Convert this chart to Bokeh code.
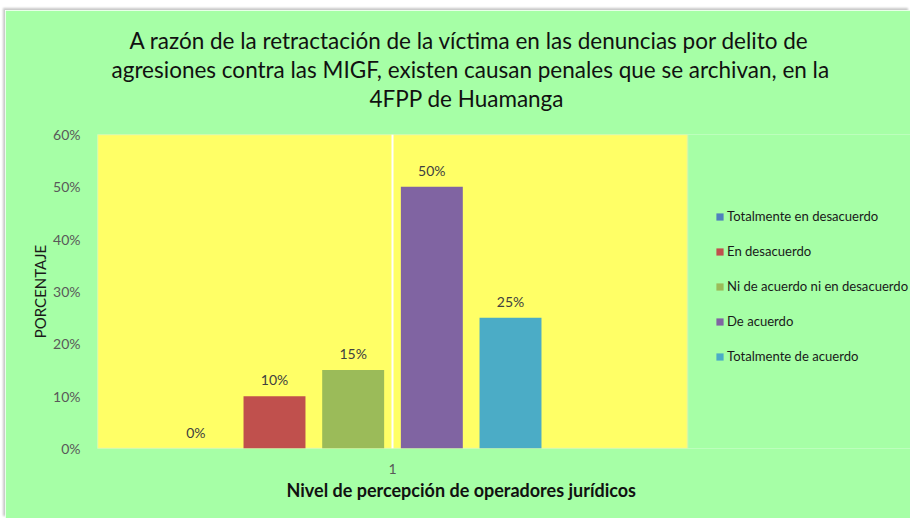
from bokeh.plotting import figure
from bokeh.models import (ColumnDataSource, Range1d, FixedTicker, NumeralTickFormatter,
                          LabelSet, Title, Legend, LegendItem, BoxAnnotation)
from bokeh.core.properties import value
from bokeh.embed import file_html
from bokeh.resources import INLINE

# ---- data ----
title_lines = [
    "A razón de la retractación de la víctima en las denuncias por delito de",
    "agresiones contra las MIGF, existen causan penales que se archivan, en la",
    "4FPP de Huamanga",
]
category = [1]
series = ["Totalmente en desacuerdo", "En desacuerdo", "Ni de acuerdo ni en desacuerdo",
          "De acuerdo", "Totalmente de acuerdo"]
values = [0.00, 0.10, 0.15, 0.50, 0.25]
bar_colors = ["#4F81BD", "#C0504D", "#9BBB59", "#8064A2", "#4BACC6"]
y_ticks = [0.0, 0.1, 0.2, 0.3, 0.4, 0.5, 0.6]
x_title = "Nivel de percepción de operadores jurídicos"
y_title = "PORCENTAJE"

FONT = "Lato"
GREEN = "#A6FFA6"
YELLOW = "#FFFF66"

# ---- layout ----
PLOT_W = 590          # width of the yellow plot area (one category unit)
FRAME_W = 813         # frame also covers the legend column up to the right edge
FRAME_H = 314
x_lo, x_hi = 0.5, 1.5
x_end = x_lo + FRAME_W / PLOT_W * (x_hi - x_lo)
title_offsets = [32, 14, 272]   # left offsets that centre each title line on the chart

# Excel-like clustered layout: 6 slots per category (last one empty)
n_slots = len(series) + 1
step = 1.0 / 7.5
bar_w = 0.105
xs = [category[0] + (i - (n_slots - 1) / 2) * step for i in range(len(series))]

src = ColumnDataSource(dict(
    x=xs, top=values, color=bar_colors, series=series,
    label=[f"{v*100:.0f}%" for v in values],
))

p = figure(frame_width=FRAME_W, frame_height=FRAME_H, margin=(10, 0, 0, 5),
           x_range=Range1d(x_lo, x_end), y_range=Range1d(y_ticks[0], y_ticks[-1]),
           output_backend="svg", toolbar_location=None,
           min_border_left=92, min_border_right=0,
           min_border_top=124, min_border_bottom=70)
p.styles = {"box-shadow": "-2px -2px 2px rgba(0, 0, 0, 0.22)"}
p.title = None
p.background_fill_color = GREEN
p.border_fill_color = GREEN
p.outline_line_color = None

# yellow plot area
p.add_layout(BoxAnnotation(left=x_lo, right=x_hi, fill_color=YELLOW, fill_alpha=1,
                           line_color="#E4E4DC", line_width=2, level="image"))

r = p.vbar(x="x", top="top", width=bar_w, fill_color="color", line_color=None,
           source=src)

# grid
p.ygrid.grid_line_color = None
p.xgrid.ticker = FixedTicker(ticks=category)
p.xgrid.grid_line_color = "white"
p.xgrid.grid_line_width = 2

# y axis
p.yaxis.ticker = FixedTicker(ticks=y_ticks)
p.yaxis.formatter = NumeralTickFormatter(format="0%")
p.yaxis.axis_line_color = None
p.yaxis.major_tick_line_color = None
p.yaxis.minor_tick_line_color = None
p.yaxis.major_label_standoff = 11
p.yaxis.major_label_text_font = FONT
p.yaxis.major_label_text_font_size = "14px"
p.yaxis.major_label_text_color = "#595959"
p.yaxis.axis_label = y_title
p.yaxis.axis_label_text_font = FONT
p.yaxis.axis_label_text_font_style = "normal"
p.yaxis.axis_label_text_font_size = "15px"
p.yaxis.axis_label_text_color = "#1a1a1a"
p.yaxis.axis_label_standoff = 1

# x axis
p.xaxis.ticker = FixedTicker(ticks=category)
p.xaxis.axis_line_color = None
p.xaxis.major_tick_line_color = None
p.xaxis.minor_tick_line_color = None
p.xaxis.major_label_standoff = 9
p.xaxis.major_label_text_font = FONT
p.xaxis.major_label_text_font_size = "14px"
p.xaxis.major_label_text_color = "#595959"

# x axis title, placed under the axis so it sits centred on the chart like the original
p.add_layout(Title(text=x_title, align="left", offset=189, standoff=0,
                   text_font=FONT, text_font_style="bold", text_font_size="18px",
                   text_color="#111111"), "below")

# bar value labels
p.add_layout(LabelSet(x="x", y="top", text="label", source=src,
                      text_align="center", text_baseline="alphabetic", y_offset=11,
                      text_font=value(FONT), text_font_size="14px", text_color="#404040"))

# title: spacer nearest the plot, then the three lines outwards
p.add_layout(Title(text=" ", text_font_size="10px", standoff=10), "above")
for line, off in reversed(list(zip(title_lines, title_offsets))):
    p.add_layout(Title(text=line, align="left", offset=off, standoff=0,
                       text_font=FONT, text_font_size="22.5px",
                       text_font_style="normal", text_color="#111111"), "above")

# legend (inside the extended frame, right of the yellow area)
items = [LegendItem(label=s, renderers=[r], index=i) for i, s in enumerate(series)]
legend = Legend(items=items, location=(618, 82), orientation="vertical",
                margin=0, padding=0, spacing=15, label_height=20,
                glyph_width=9, glyph_height=9, label_standoff=3,
                label_text_font=FONT, label_text_font_size="13.1px",
                label_text_color="#1a1a1a",
                border_line_color=None, background_fill_alpha=0)
p.add_layout(legend)

open("out.html", "w").write(file_html(p, INLINE))
